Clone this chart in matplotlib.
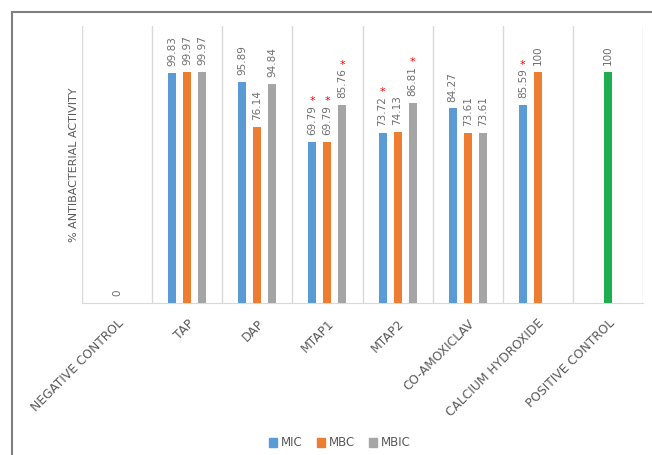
import matplotlib
matplotlib.use("Agg")
import matplotlib.pyplot as plt
from matplotlib.lines import Line2D
from matplotlib.patches import Patch
import numpy as np

# Data
categories = ["NEGATIVE CONTROL", "TAP", "DAP", "MTAP1", "MTAP2",
              "CO-AMOXICLAV", "CALCIUM HYDROXIDE", "POSITIVE CONTROL"]
mic = [None, 99.83, 95.89, 69.79, 73.72, 84.27, 85.59, None]
mbc = [None, 99.97, 76.14, 69.79, 74.13, 73.61, 100, None]
mbic = [None, 99.97, 94.84, 85.76, 86.81, 73.61, None, None]
negative_control = 0
positive_control = 100

# which bars carry a red asterisk (series, category index)
starred = [("MIC", 3), ("MBC", 3), ("MBIC", 3),
           ("MIC", 4), ("MBIC", 4), ("MIC", 6)]

colors = {"MIC": "#5B9BD5", "MBC": "#ED7D31", "MBIC": "#A5A5A5"}
txt_col = "#595959"

fig = plt.figure(figsize=(6.52, 4.55), dpi=100)
ax = fig.add_axes([82 / 652, 1 - 303 / 455, (643 - 82) / 652, (303 - 26) / 455])

x = np.arange(len(categories))
width = 0.115
offs = 0.214


def add_label(xpos, val, star=False):
    t = ax.annotate(f"{val:g}", xy=(xpos, val), xytext=(0, 5),
                    textcoords="offset points", rotation=90,
                    ha="center", va="bottom", fontsize=7.5, color="#6E6E6E")
    if star:
        ax.annotate("*", xy=(0.5, 1), xycoords=t, xytext=(0, -1),
                    textcoords="offset points", ha="center", va="bottom",
                    fontsize=8, color="red")


for k, (name, vals) in enumerate([("MIC", mic), ("MBC", mbc), ("MBIC", mbic)]):
    for i, v in enumerate(vals):
        if v is None:
            continue
        xp = x[i] + (k - 1) * offs
        ax.bar(xp, v, width, color=colors[name], zorder=3)
        add_label(xp, v, (name, i) in starred)

# controls
add_label(x[0], negative_control)
ax.bar(x[-1], positive_control, width, color="#1EAE4F", zorder=3)
add_label(x[-1], positive_control)

ax.set_xlim(-0.5, len(categories) - 0.5)
ax.set_ylim(0, 120)
ax.set_yticks([])
ax.set_xticks(x)
ax.set_xticklabels(categories, rotation=45, ha="right", rotation_mode="anchor",
                   fontsize=8.8, color=txt_col)
ax.tick_params(axis="x", length=0, pad=10)
ax.set_xticks(np.arange(-0.5, len(categories)), minor=True)
ax.tick_params(axis="x", which="minor", length=0)
ax.grid(axis="x", which="minor", color="#D9D9D9", linewidth=1, zorder=0)
for s in ["top", "right", "left"]:
    ax.spines[s].set_visible(False)
ax.spines["bottom"].set_color("#D9D9D9")

ax.set_ylabel("% ANTIBACTERIAL ACTIVITY", fontsize=8, color=txt_col, labelpad=2)

handles = [Patch(color=colors[n]) for n in ["MIC", "MBC", "MBIC"]]
fig.legend(handles, ["MIC", "MBC", "MBIC"], loc="center",
           bbox_to_anchor=(340 / 652, 1 - 443 / 455), ncol=3, frameon=False,
           fontsize=8.5, labelcolor=txt_col, handlelength=0.7, handleheight=0.7,
           handletextpad=0.3, columnspacing=1.2)

# outer frame (left and top edges)
fig.add_artist(Line2D([12 / 652, 12 / 652], [0, 1 - 12 / 455], color="#7F7F7F", linewidth=1.5))
fig.add_artist(Line2D([12 / 652, 1], [1 - 12 / 455, 1 - 12 / 455], color="#7F7F7F", linewidth=1.5))

fig.savefig("out.png", dpi=100)
